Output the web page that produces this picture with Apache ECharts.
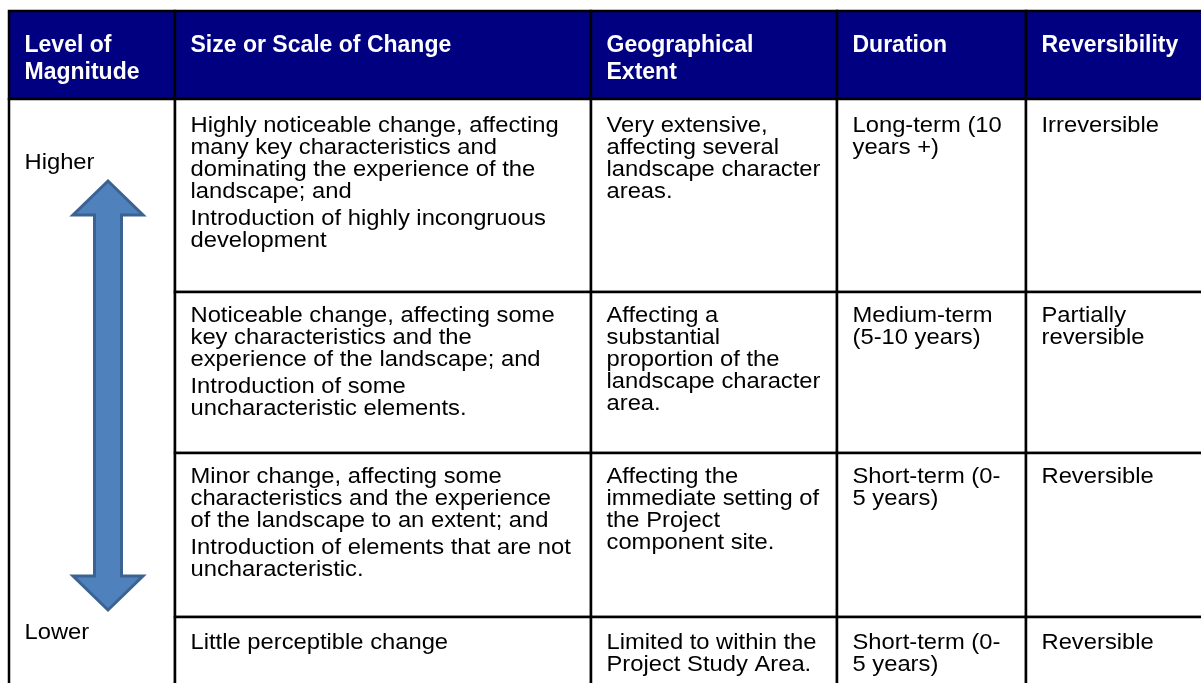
<!DOCTYPE html>
<html>
<head>
<meta charset="utf-8">
<script src="https://cdn.jsdelivr.net/npm/echarts@6/dist/echarts.min.js"></script>
<style>
  html, body { margin: 0; padding: 0; background: #ffffff; }
  #chart { width: 1201px; height: 683px; }
</style>
</head>
<body>
<div id="chart"></div>
<script>
// ---------- DATA ----------
const headers = ["Level of\nMagnitude", "Size or Scale of Change", "Geographical\nExtent", "Duration", "Reversibility"];
const magnitudeLabels = ["Higher", "Lower"];
const sizeOrScale = [
  ["Highly noticeable change, affecting\nmany key characteristics and\ndominating the experience of the\nlandscape; and", "Introduction of highly incongruous\ndevelopment"],
  ["Noticeable change, affecting some\nkey characteristics and the\nexperience of the landscape; and", "Introduction of some\nuncharacteristic elements."],
  ["Minor change, affecting some\ncharacteristics and the experience\nof the landscape to an extent; and", "Introduction of elements that are not\nuncharacteristic."],
  ["Little perceptible change"]
];
const geographicalExtent = [
  "Very extensive,\naffecting several\nlandscape character\nareas.",
  "Affecting a\nsubstantial\nproportion of the\nlandscape character\narea.",
  "Affecting the\nimmediate setting of\nthe Project\ncomponent site.",
  "Limited to within the\nProject Study Area."
];
const duration = [
  "Long-term (10\nyears +)",
  "Medium-term\n(5-10 years)",
  "Short-term (0-\n5 years)",
  "Short-term (0-\n5 years)"
];
const reversibility = [
  "Irreversible",
  "Partially\nreversible",
  "Reversible",
  "Reversible"
];

// ---------- LAYOUT (table geometry, not data) ----------
const COL_EDGES = [9, 175, 591, 837, 1026, 1230];
const ROW_EDGES = [11, 99, 292, 453, 617, 720];
const PAD_X = 15.5;
const TEXT_TOP = [16, 13, 13, 15];   // distance from each row's top to its first text line box
const BODY_LH = 22;
const PARA_GAP = 5;
const SCALE_X = 1.08;
const FONT_FAMILY = '"Liberation Sans", Arial, sans-serif';
const BODY_FONT = '22px ' + FONT_FAMILY;
const HEAD_FONT = 'bold 23px ' + FONT_FAMILY;
const BORDER = '#000000';
const HEAD_BG = '#000080';
const ARROW_X = 108, ARROW_TOP = 181, ARROW_BOTTOM = 610;
const HIGHER_Y = 152, LOWER_Y = 622;

const bodyColumns = [sizeOrScale, geographicalExtent, duration, reversibility];

function textEl(px, py, txt, font, lh, fill) {
  return {
    type: 'text',
    x: px, y: py,
    scaleX: SCALE_X, scaleY: 1,
    style: {
      text: txt, x: 0, y: 0,
      font: font, fill: fill,
      lineHeight: lh,
      align: 'left', verticalAlign: 'top',
      textAlign: 'left', textVerticalAlign: 'top'
    },
    z2: 10
  };
}

const headerData = headers.map((h, i) => [i, 0]);
const bodyData = [];
for (let r = 0; r < 4; r++) for (let c = 1; c <= 4; c++) bodyData.push([c, r]);

const option = {
  animation: false,
  backgroundColor: '#ffffff',
  grid: { left: 0, right: 0, top: 0, bottom: 0 },
  xAxis: { type: 'value', min: 0, max: 1201, show: false },
  yAxis: { type: 'value', min: 0, max: 683, inverse: true, show: false },
  series: [
    {
      type: 'custom', name: 'header', clip: false,
      data: headerData,
      renderItem: function (params, api) {
        const i = api.value(0);
        const p0 = api.coord([COL_EDGES[i], ROW_EDGES[0]]);
        const p1 = api.coord([COL_EDGES[i + 1], ROW_EDGES[1]]);
        return {
          type: 'group',
          children: [
            { type: 'rect', shape: { x: p0[0], y: p0[1], width: p1[0] - p0[0], height: p1[1] - p0[1] },
              style: { fill: HEAD_BG, stroke: BORDER, lineWidth: 2.5 } },
            {
              type: 'text', x: p0[0] + PAD_X, y: p0[1] + 21,
              style: { text: headers[i], x: 0, y: 0, font: HEAD_FONT, fill: '#ffffff', lineHeight: 27,
                       align: 'left', verticalAlign: 'top', textAlign: 'left', textVerticalAlign: 'top' },
              z2: 10
            }
          ]
        };
      }
    },
    {
      type: 'custom', name: 'magnitude', clip: false,
      data: [[0, 0]],
      renderItem: function (params, api) {
        const p0 = api.coord([COL_EDGES[0], ROW_EDGES[1]]);
        const p1 = api.coord([COL_EDGES[1], ROW_EDGES[5]]);
        const cx = api.coord([ARROW_X, 0])[0];
        const top = api.coord([0, ARROW_TOP])[1];
        const bot = api.coord([0, ARROW_BOTTOM])[1];
        const headLen = 34, headHalf = 35, shaftHalf = 13.5;
        const pts = [
          [cx, top], [cx + headHalf, top + headLen], [cx + shaftHalf, top + headLen],
          [cx + shaftHalf, bot - headLen], [cx + headHalf, bot - headLen], [cx, bot],
          [cx - headHalf, bot - headLen], [cx - shaftHalf, bot - headLen],
          [cx - shaftHalf, top + headLen], [cx - headHalf, top + headLen]
        ];
        const hi = api.coord([0, HIGHER_Y])[1];
        const lo = api.coord([0, LOWER_Y])[1];
        return {
          type: 'group',
          children: [
            { type: 'rect', shape: { x: p0[0], y: p0[1], width: p1[0] - p0[0], height: p1[1] - p0[1] },
              style: { fill: '#ffffff', stroke: BORDER, lineWidth: 2.5 } },
            { type: 'polygon', shape: { points: pts },
              style: { fill: '#4F81BD', stroke: '#3B6292', lineWidth: 3, lineJoin: 'miter' }, z2: 5 },
            textEl(p0[0] + PAD_X, hi, magnitudeLabels[0], BODY_FONT, BODY_LH, '#000'),
            textEl(p0[0] + PAD_X, lo, magnitudeLabels[1], BODY_FONT, BODY_LH, '#000')
          ]
        };
      }
    },
    {
      type: 'custom', name: 'body', clip: false,
      data: bodyData,
      renderItem: function (params, api) {
        const c = api.value(0), r = api.value(1);
        const p0 = api.coord([COL_EDGES[c], ROW_EDGES[r + 1]]);
        const p1 = api.coord([COL_EDGES[c + 1], ROW_EDGES[r + 2]]);
        const children = [
          { type: 'rect', shape: { x: p0[0], y: p0[1], width: p1[0] - p0[0], height: p1[1] - p0[1] },
            style: { fill: '#ffffff', stroke: BORDER, lineWidth: 2.5 } }
        ];
        const content = bodyColumns[c - 1][r];
        const paras = Array.isArray(content) ? content : [content];
        let y = p0[1] + TEXT_TOP[r];
        paras.forEach(function (p) {
          children.push(textEl(p0[0] + PAD_X, y, p, BODY_FONT, BODY_LH, '#000'));
          y += p.split('\n').length * BODY_LH + PARA_GAP;
        });
        return { type: 'group', children: children };
      }
    }
  ]
};

const chart = echarts.init(document.getElementById('chart'), null, { renderer: 'canvas' });
chart.setOption(option);
</script>
</body>
</html>
